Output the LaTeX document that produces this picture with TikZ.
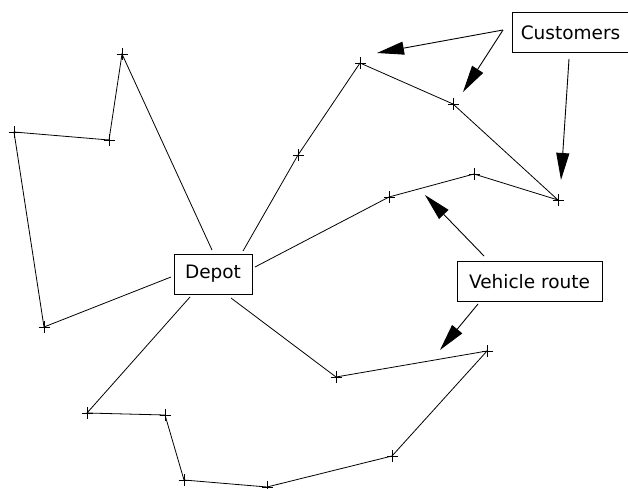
\documentclass[tikz,border=0pt]{standalone}
\usepackage{fontspec}
\setmainfont{DejaVu Sans}
\usetikzlibrary{arrows.meta}
\begin{document}
\begin{tikzpicture}[x=1pt,y=-1pt,
  route/.style={line width=0.8pt},
  tick/.style={line width=0.8pt},
  labelbox/.style={draw, line width=1pt, fill=white, inner sep=0pt,
    minimum height=40pt, font=\fontsize{18.5}{22}\selectfont},
  pointer/.style={line width=0.9pt, -{Triangle[length=27pt,width=13pt]}}]
\useasboundingbox (0,0) rectangle (628,489);

% customer locations
\coordinate (a1) at (122,54);
\coordinate (a2) at (109,140);
\coordinate (a3) at (14,132);
\coordinate (a4) at (44,327);
\coordinate (b1) at (298,155);
\coordinate (b2) at (360,63);
\coordinate (b3) at (453,104);
\coordinate (b4) at (558,200);
\coordinate (b5) at (474,174);
\coordinate (b6) at (389,197);
\coordinate (c1) at (87,413);
\coordinate (c2) at (165,415);
\coordinate (c3) at (184,480);
\coordinate (c4) at (267,487);
\coordinate (c5) at (392,456);
\coordinate (c6) at (487,351);
\coordinate (c7) at (336,377);

% depot and its route ends
\node[labelbox, minimum width=78pt] (depot) at (213,274) {Depot};
\coordinate (d1) at (212,250);
\coordinate (d2) at (243,251);
\coordinate (d3) at (255,267);
\coordinate (d4) at (171,277);
\coordinate (d5) at (190,297);
\coordinate (d6) at (231,298);

% routes
\draw[route] (d1) -- (a1) -- (a2) -- (a3) -- (a4) -- (d4);
\draw[route] (d2) -- (b1) -- (b2) -- (b3) -- (b4) -- (b5) -- (b6) -- (d3);
\draw[route] (d5) -- (c1) -- (c2) -- (c3) -- (c4) -- (c5) -- (c6) -- (c7) -- (d6);

% customer marks
\foreach \p in {a1,a2,a3,a4,b1,b2,b3,b4,b5,b6,c1,c2,c3,c4,c5,c6,c7}
  \draw[tick] ([xshift=-5.5pt]\p) -- ([xshift=5.5pt]\p)
              ([yshift=-6pt]\p) -- ([yshift=6pt]\p);

% labels and pointers
\node[labelbox, minimum width=117pt] (cust) at (570.5,33) {Customers};
\node[labelbox, minimum width=145pt] (veh) at (529.5,281.5) {Vehicle route};

\coordinate (cs) at (503,30);
\coordinate (ct1) at (377,53);
\coordinate (ct2) at (463,92);
\coordinate (cs3) at (569,59);
\coordinate (ct3) at (561,180);
\draw[pointer] (cs) -- (ct1);
\draw[pointer] (cs) -- (ct2);
\draw[pointer] (cs3) -- (ct3);

\coordinate (vs1) at (484,256);
\coordinate (vt1) at (425,195);
\coordinate (vs2) at (478,304);
\coordinate (vt2) at (440,350);
\draw[pointer] (vs1) -- (vt1);
\draw[pointer] (vs2) -- (vt2);
\end{tikzpicture}
\end{document}
